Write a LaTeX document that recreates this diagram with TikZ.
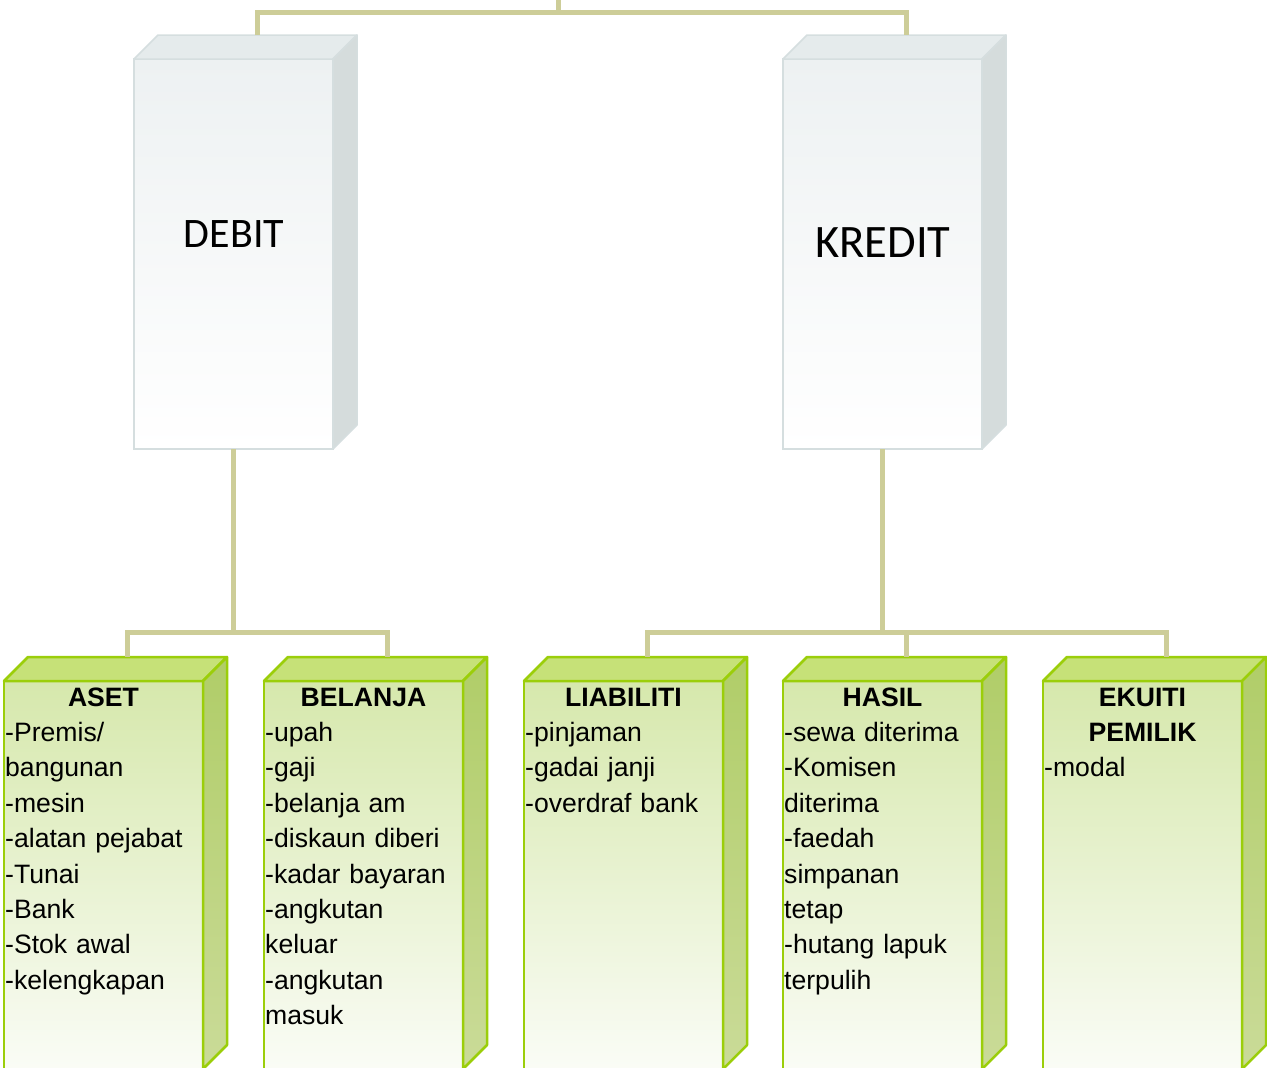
\documentclass[tikz,border=0pt]{standalone}
\usepackage{fontspec}
\setmainfont{Liberation Sans}
\newfontfamily\titlefont{Carlito}
\usetikzlibrary{calc}

\definecolor{linkcol}{RGB}{205,205,152}
\definecolor{grayedge}{RGB}{213,222,223}
\definecolor{grayfront}{RGB}{237,241,242}
\definecolor{graytop}{RGB}{229,235,236}
\definecolor{grayside}{RGB}{213,220,220}
\definecolor{greenedge}{RGB}{155,206,10}
\definecolor{greenfront}{RGB}{214,232,172}
\definecolor{greenfoot}{RGB}{250,252,246}
\definecolor{greentop}{RGB}{198,225,120}
\definecolor{greenside}{RGB}{176,205,104}
\definecolor{greensidefoot}{RGB}{202,219,152}

\begin{document}
\begin{tikzpicture}[x=1pt,y=-1pt,
  link/.style={draw=linkcol,line width=5pt},
  graybox/.style={draw=grayedge,line width=1.5pt,minimum width=199pt,minimum height=390pt,
    inner sep=0pt,outer sep=0pt,top color=grayfront,middle color=grayfront,bottom color=white},
  greenbox/.style={draw=greenedge,line width=2.5pt,minimum width=199pt,minimum height=388pt,
    inner sep=0pt,outer sep=0pt,top color=greenfront,bottom color=greenfoot},
  graytopface/.style={draw=grayedge,line width=1.5pt,fill=graytop,line join=round},
  graysideface/.style={draw=grayedge,line width=1.5pt,fill=grayside,line join=round},
  greentopface/.style={draw=greenedge,line width=2.5pt,fill=greentop,line join=round},
  greensideface/.style={draw=greenedge,line width=2.5pt,top color=greenside,bottom color=greensidefoot,line join=round},
  title/.style={anchor=base,inner sep=0pt},
  head/.style={font=\fontsize{26.6}{35.4}\selectfont\bfseries,anchor=base,text width=199pt,
    align=center,inner sep=0pt},
  items/.style={font=\fontsize{26.6}{35.4}\selectfont,anchor=base west,text width=205pt,
    align=left,inner sep=0pt}]
  \useasboundingbox (0,0) rectangle (1267,1068);

  \node (debit_box) [graybox] at (233.5,254) {};
  \node (kredit_box) [graybox] at (882.5,254) {};
  \foreach \b in {debit_box,kredit_box}{
    \path[graytopface] (\b.north west) -- ++(24,-24) -- ($(\b.north east)+(24,-24)$) -- (\b.north east) -- cycle;
    \path[graysideface] (\b.north east) -- ++(24,-24) -- ($(\b.south east)+(24,-24)$) -- (\b.south east) -- cycle;
  }
  \node (debit_title) [title,font=\titlefont\fontsize{42}{50}\selectfont] at (234,247) {DEBIT};
  \node (kredit_title) [title,font=\titlefont\fontsize{46.5}{55}\selectfont] at (883,257) {KREDIT};

  \node (aset_box) [greenbox] at (103.5,875) {};
  \node (belanja_box) [greenbox] at (363.5,875) {};
  \node (liabiliti_box) [greenbox] at (623.5,875) {};
  \node (hasil_box) [greenbox] at (882.5,875) {};
  \node (ekuiti_box) [greenbox] at (1142.5,875) {};
  \foreach \b in {aset_box,belanja_box,liabiliti_box,hasil_box,ekuiti_box}{
    \path[greentopface] (\b.north west) -- ++(24,-24) -- ($(\b.north east)+(24,-24)$) -- (\b.north east) -- cycle;
    \path[greensideface] (\b.north east) -- ++(24,-24) -- ($(\b.south east)+(24,-24)$) -- (\b.south east) -- cycle;
  }

  \node (aset_head) [head] at (103.5,706.5) {ASET};
  \node (aset_items) [items] at (5,741.5) {-Premis/\\bangunan\\-mesin\\-alatan pejabat\\-Tunai\\-Bank\\-Stok awal\\-kelengkapan};
  \node (belanja_head) [head] at (363.5,706.5) {BELANJA};
  \node (belanja_items) [items] at (265,741.5) {-upah\\-gaji\\-belanja am\\-diskaun diberi\\-kadar bayaran\\-angkutan\\keluar\\-angkutan\\masuk};
  \node (liabiliti_head) [head] at (623.5,706.5) {LIABILITI};
  \node (liabiliti_items) [items] at (525,741.5) {-pinjaman\\-gadai janji\\-overdraf bank};
  \node (hasil_head) [head] at (882.5,706.5) {HASIL};
  \node (hasil_items) [items] at (784,741.5) {-sewa diterima\\-Komisen\\diterima\\-faedah\\simpanan\\tetap\\-hutang lapuk\\terpulih};
  \node (ekuiti_head) [head] at (1142.5,706.5) {EKUITI\\PEMILIK};
  \node (ekuiti_items) [items] at (1044,776.9) {-modal};

  \coordinate (root) at (558,0);
  \coordinate (top_bus) at (558,12);
  \coordinate (debit_top) at ($(debit_box.north)+(24,-24)$);
  \coordinate (kredit_top) at ($(kredit_box.north)+(24,-24)$);
  \draw[link] (root) -- (top_bus);
  \draw[link] (debit_top) |- (top_bus) -| (kredit_top);

  \coordinate (debit_bus) at (233.5,632);
  \coordinate (aset_top) at ($(aset_box.north)+(24,-24)$);
  \coordinate (belanja_top) at ($(belanja_box.north)+(24,-24)$);
  \draw[link] (debit_box.south) -- (debit_bus);
  \draw[link] (aset_top) |- (debit_bus) -| (belanja_top);

  \coordinate (kredit_bus) at (882.5,632);
  \coordinate (liabiliti_top) at ($(liabiliti_box.north)+(24,-24)$);
  \coordinate (hasil_top) at ($(hasil_box.north)+(24,-24)$);
  \coordinate (ekuiti_top) at ($(ekuiti_box.north)+(24,-24)$);
  \draw[link] (kredit_box.south) -- (kredit_bus);
  \draw[link] (liabiliti_top) |- (kredit_bus) -| (ekuiti_top);
  \draw[link] (hasil_top |- kredit_bus) -- (hasil_top);
\end{tikzpicture}
\end{document}
